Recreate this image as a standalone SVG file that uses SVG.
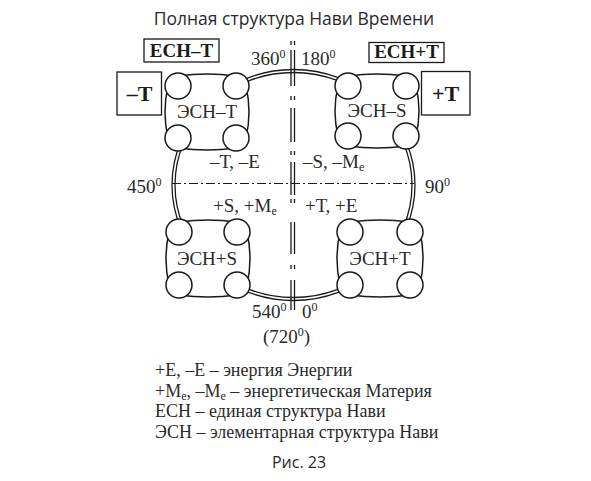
<svg xmlns="http://www.w3.org/2000/svg" width="591" height="481" viewBox="0 0 591 481">
<style>
.t{font-family:"Liberation Serif","Times New Roman",serif;font-size:19px;fill:#2a2a2a}
.lg{font-family:"Liberation Serif","Times New Roman",serif;font-size:18px;fill:#2a2a2a}
.b{font-family:"Liberation Serif","Times New Roman",serif;font-weight:bold;fill:#1a1a1a}
.s{font-family:"Open Sans","Liberation Sans",Arial,sans-serif;fill:#2a2a2a}
.ln{fill:none;stroke:#1a1a1a;stroke-width:1.3}
.body{fill:#fff;stroke:#1a1a1a;stroke-width:1.5}
.c{fill:#fff;stroke:#1a1a1a;stroke-width:1.5}
.box{fill:#fff;stroke:#1a1a1a;stroke-width:1.3}
.sup{font-size:12px}
.sub{font-size:12px}
</style>
<rect width="591" height="481" fill="#fff"/>
<text class="s" x="294" y="25" font-size="17.5" text-anchor="middle">Полная структура Нави Времени</text>

<g id="axes">
<ellipse class="ln" cx="293.5" cy="185" rx="121.5" ry="115.5"/>
<ellipse class="ln" cx="293.5" cy="185" rx="118.5" ry="112.5"/>
<path d="M172,183.5 H414" fill="none" stroke="#1a1a1a" stroke-width="1" stroke-dasharray="9 3 2 3"/>
<path class="ln" d="M291,41 V45 M291,50 V86 M291,96 V100 M291,108 V142 M291,151 V155 M291,162 V195 M291,199 V203 M291,222 V254 M291,265 V269 M291,280 V310 M294.5,41 V45 M294.5,50 V86 M294.5,96 V100 M294.5,108 V142 M294.5,151 V155 M294.5,162 V195 M294.5,199 V203 M294.5,222 V254 M294.5,265 V269 M294.5,280 V310"/>
</g>

<g id="node-esn-minus-t">
<path class="body" d="M178,76 Q207,72 236,76 L246,86 Q252,112 246,138 L236,148 Q207,152 178,148 L168,138 Q162,112 168,86 Z"/>
<circle class="c" cx="178" cy="86" r="13"/><circle class="c" cx="236" cy="86" r="13"/>
<circle class="c" cx="178" cy="138" r="13"/><circle class="c" cx="236" cy="138" r="13"/>
<text class="t" x="207" y="118" text-anchor="middle">ЭСН–Т</text>
</g>
<g id="node-esn-minus-s">
<path class="body" d="M348,76 Q377,72 406,76 L416,86 Q422,111 416,136 L406,146 Q377,150 348,146 L338,136 Q332,111 338,86 Z"/>
<circle class="c" cx="348" cy="86" r="13"/><circle class="c" cx="406" cy="86" r="13"/>
<circle class="c" cx="348" cy="136" r="13"/><circle class="c" cx="406" cy="136" r="13"/>
<text class="t" x="377" y="117" text-anchor="middle">ЭСН–S</text>
</g>
<g id="node-esn-plus-s">
<path class="body" d="M179,222 Q208,218 237,222 L247,232 Q253,258.5 247,285 L237,295 Q208,299 179,295 L169,285 Q163,258.5 169,232 Z"/>
<circle class="c" cx="179" cy="232" r="13"/><circle class="c" cx="237" cy="232" r="13"/>
<circle class="c" cx="179" cy="285" r="13"/><circle class="c" cx="237" cy="285" r="13"/>
<text class="t" x="207" y="265" text-anchor="middle">ЭСН+S</text>
</g>
<g id="node-esn-plus-t">
<path class="body" d="M350,222 Q380,218 410,222 L420,232 Q426,258.5 420,285 L410,295 Q380,299 350,295 L340,285 Q334,258.5 340,232 Z"/>
<circle class="c" cx="350" cy="232" r="13"/><circle class="c" cx="410" cy="232" r="13"/>
<circle class="c" cx="350" cy="285" r="13"/><circle class="c" cx="410" cy="285" r="13"/>
<text class="t" x="380" y="265" text-anchor="middle">ЭСН+Т</text>
</g>

<g id="box-ech-minus-t">
<rect class="box" x="144" y="39" width="75" height="23"/>
<text class="b" x="181.5" y="57" font-size="19" text-anchor="middle">ЕСН–Т</text>
</g>
<g id="box-ech-plus-t">
<rect class="box" x="369" y="42.5" width="75" height="20"/>
<text class="b" x="406.5" y="58" font-size="19" text-anchor="middle">ЕСН+Т</text>
</g>
<g id="box-minus-t">
<rect class="box" x="117" y="72" width="44.5" height="43"/>
<text class="b" x="139.5" y="101" font-size="22" text-anchor="middle">–Т</text>
</g>
<g id="box-plus-t">
<rect class="box" x="421.5" y="71.5" width="48.5" height="43.5"/>
<text class="b" x="445.5" y="101" font-size="22" text-anchor="middle">+Т</text>
</g>

<g id="labels">
<text class="t" x="251" y="65">360<tspan class="sup" dy="-7">0</tspan></text>
<text class="t" x="301" y="65">180<tspan class="sup" dy="-7">0</tspan></text>
<text class="t" x="127" y="193">450<tspan class="sup" dy="-7">0</tspan></text>
<text class="t" x="425" y="193">90<tspan class="sup" dy="-7">0</tspan></text>
<text class="t" x="252" y="318">540<tspan class="sup" dy="-7">0</tspan></text>
<text class="t" x="302" y="318">0<tspan class="sup" dy="-7">0</tspan></text>
<text class="t" x="263" y="343">(720<tspan class="sup" dy="-7">0</tspan><tspan dy="7">)</tspan></text>
<text class="t" x="210" y="168">–Т, –Е</text>
<text class="t" x="303" y="168">–S, –M<tspan class="sub" dy="3">e</tspan></text>
<text class="t" x="213" y="212">+S, +M<tspan class="sub" dy="3">e</tspan></text>
<text class="t" x="305" y="212">+Т, +Е</text>
</g>

<g id="legend">
<text class="lg" x="155" y="376">+Е, –Е – энергия Энергии</text>
<text class="lg" x="155" y="396.5">+M<tspan class="sub" dy="3">e</tspan><tspan dy="-3">, –M</tspan><tspan class="sub" dy="3">e</tspan><tspan dy="-3"> – энергетическая Материя</tspan></text>
<text class="lg" x="155" y="417">ЕСН – единая структура Нави</text>
<text class="lg" x="155" y="437.5">ЭСН – элементарная структура Нави</text>
</g>
<text class="s" x="299" y="468" font-size="16" text-anchor="middle">Рис. 23</text>
</svg>
